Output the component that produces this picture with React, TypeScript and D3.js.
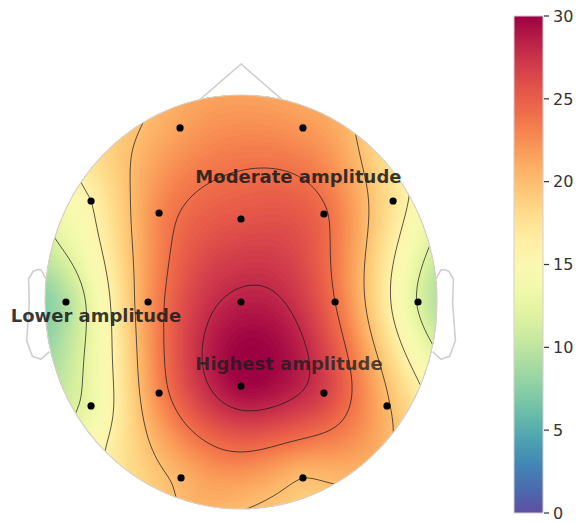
import React, { useMemo } from "react";
import * as d3 from "d3";

// ---------- data ----------
const channelNames = ["Fp1", "Fp2", "F7", "F3", "Fz", "F4", "F8", "T3", "C3", "Cz", "C4", "T4", "T5", "P3", "Pz", "P4", "T6", "O1", "O2"];
// sensor positions in head coordinates (-1..1, nose up)
const channelX = [-0.311, 0.316, -0.765, -0.418, 0, 0.423, 0.776, -0.893, -0.474, 0, 0.48, 0.903, -0.765, -0.418, 0, 0.423, 0.745, -0.306, 0.316];
const channelY = [0.841, 0.841, 0.488, 0.43, 0.401, 0.425, 0.488, 0, 0, 0, 0, 0, -0.502, -0.44, -0.406, -0.44, -0.502, -0.85, -0.85];
const channelValues = [21.5, 22, 16, 22.8, 25.5, 24.3, 17.5, 9.3, 22, 28.5, 24, 11.8, 13, 22.8, 29.7, 26.7, 20.3, 20.5, 20];
// values (degrees clockwise from the nose)
const rimAngles = [0, 15, 30, 45, 60, 75, 90, 105, 120, 135, 150, 165, 180, 195, 210, 225, 240, 255, 270, 285, 300, 315, 330, 345];
const rimValues = [21.5, 21.3, 20.8, 18.3, 15.8, 11.8, 9.5, 13, 18, 20.8, 20.2, 19.3, 20.1, 20.5, 18.7, 15.7, 11.5, 8.8, 7.5, 11.2, 14.8, 18.3, 20, 21.2];
const contourLevels = [12, 16, 20, 24, 28];
const colorTicks = [0, 5, 10, 15, 20, 25, 30];
const colorDomain = [0, 30];
const annotationTexts = ["Moderate amplitude", "Lower amplitude", "Highest amplitude"];

// ---------- layout ----------
const W = 579;
const H = 522;
const CX = 241;
const CY = 302;
const RX = 196;
const RY = 207;
const annotationPos = [
  [0.293, 0.575],
  [-0.74, -0.097],
  [0.245, -0.329],
];
const EAR_X = [0.497, 0.51, 0.518, 0.5299, 0.5419, 0.54, 0.547, 0.532, 0.51, 0.489];
const EAR_Y = [0.0555, 0.0775, 0.0783, 0.0746, 0.0555, -0.0055, -0.0932, -0.1313, -0.1384, -0.1199];
const BAR = { x: 514, w: 29, top: 16, bottom: 513 };

function fitTPS(xs: number[], ys: number[], vs: number[], lambda: number) {
  const n = xs.length;
  const N = n + 3;
  const phi = (r: number) => (r < 1e-12 ? 0 : r * r * Math.log(r));
  const A: number[][] = [];
  for (let i = 0; i < N; i++) A.push(new Array(N + 1).fill(0));
  for (let i = 0; i < n; i++) {
    for (let j = 0; j < n; j++) {
      const r = Math.hypot(xs[i] - xs[j], ys[i] - ys[j]);
      A[i][j] = phi(r) + (i === j ? lambda : 0);
    }
    A[i][n] = 1;
    A[i][n + 1] = xs[i];
    A[i][n + 2] = ys[i];
    A[n][i] = 1;
    A[n + 1][i] = xs[i];
    A[n + 2][i] = ys[i];
    A[i][N] = vs[i];
  }
  for (let c = 0; c < N; c++) {
    let p = c;
    for (let r = c + 1; r < N; r++) if (Math.abs(A[r][c]) > Math.abs(A[p][c])) p = r;
    [A[c], A[p]] = [A[p], A[c]];
    const piv = A[c][c];
    for (let r = 0; r < N; r++) {
      if (r === c) continue;
      const f = A[r][c] / piv;
      if (f === 0) continue;
      for (let k = c; k <= N; k++) A[r][k] -= f * A[c][k];
    }
  }
  const sol = A.map((row, i) => row[N] / row[i]);
  return (x: number, y: number) => {
    let s = sol[n] + sol[n + 1] * x + sol[n + 2] * y;
    for (let i = 0; i < n; i++) s += sol[i] * phi(Math.hypot(x - xs[i], y - ys[i]));
    return s;
  };
}

export default function App() {
  const xScale = d3.scaleLinear().domain([-1, 1]).range([CX - RX, CX + RX]);
  const yScale = d3.scaleLinear().domain([-1, 1]).range([CY + RY, CY - RY]);
  const color = d3.scaleSequential(d3.interpolateSpectral).domain([colorDomain[1], colorDomain[0]]);
  const barScale = d3.scaleLinear().domain(colorDomain).range([BAR.bottom, BAR.top]);

  const { fills, lines } = useMemo(() => {
    const px = channelX.concat(rimAngles.map((a) => Math.sin((a * Math.PI) / 180)));
    const py = channelY.concat(rimAngles.map((a) => Math.cos((a * Math.PI) / 180)));
    const pv = channelValues.concat(rimValues);
    const f = fitTPS(px, py, pv, 0.0005);
    const step = 2;
    const x0 = CX - RX - 4;
    const y0 = CY - RY - 4;
    const nx = Math.ceil((2 * RX + 8) / step) + 1;
    const ny = Math.ceil((2 * RY + 8) / step) + 1;
    const vals = new Array(nx * ny);
    let mn = Infinity;
    let mx = -Infinity;
    for (let j = 0; j < ny; j++) {
      for (let i = 0; i < nx; i++) {
        const u = xScale.invert(x0 + i * step);
        const v = yScale.invert(y0 + j * step);
        const val = f(u, v);
        vals[j * nx + i] = val;
        if (u * u + v * v <= 1.05) {
          mn = Math.min(mn, val);
          mx = Math.max(mx, val);
        }
      }
    }
    const proj = d3.geoIdentity().scale(step).translate([x0 - step * 0.5, y0 - step * 0.5]);
    const path = d3.geoPath(proj as any);
    const fillThresholds = d3.range(Math.floor(mn) - 1, mx, 0.2);
    const gen = d3.contours().size([nx, ny]);
    const fills = fillThresholds.map((t, i) => ({
      d: path(gen.contour(vals, i === 0 ? -1e9 : t) as any) || "",
      c: color(t + 0.1),
    }));
    const lines = contourLevels.map((t) => path(gen.contour(vals, t) as any) || "");
    return { fills, lines };
  }, []);

  const nosePts: [number, number][] = [
    [-0.2094, 0.9778],
    [0, 1.15],
    [0.2094, 0.9778],
  ];
  const line = d3.line<[number, number]>().x((d) => xScale(d[0])).y((d) => yScale(d[1]));
  const earR: [number, number][] = EAR_X.map((x, i) => [x * 2, EAR_Y[i] * 2]);
  const earL: [number, number][] = EAR_X.map((x, i) => [-x * 2, EAR_Y[i] * 2]);

  const stops = d3.range(0, 1.0001, 0.05);

  return (
    <svg width={W} height={H} style={{ position: "absolute", left: 0, top: 0, background: "#fff" }}>
      <defs>
        <clipPath id="headClip">
          <ellipse cx={CX} cy={CY} rx={RX} ry={RY} />
        </clipPath>
        <linearGradient id="cbar" x1="0" y1="0" x2="0" y2="1">
          {stops.map((o) => (
            <stop key={o} offset={o} stopColor={d3.interpolateSpectral(o)} />
          ))}
        </linearGradient>
      </defs>
      <path d={line(nosePts) || ""} fill="none" stroke="#cfcfcf" strokeWidth={1.6} />
      <path d={line(earR) || ""} fill="none" stroke="#cfcfcf" strokeWidth={1.6} />
      <path d={line(earL) || ""} fill="none" stroke="#cfcfcf" strokeWidth={1.6} />
      <g clipPath="url(#headClip)">
        {fills.map((f, i) => (
          <path key={i} d={f.d} fill={f.c} stroke="none" />
        ))}
        {lines.map((d, i) => (
          <path key={"l" + i} d={d} fill="none" stroke="#1a1a1a" strokeOpacity={0.8} strokeWidth={0.9} />
        ))}
      </g>
      <ellipse cx={CX} cy={CY} rx={RX} ry={RY} fill="none" stroke="#d8d0c8" strokeWidth={1.2} />
      {channelNames.map((n, i) => (
        <circle key={n} cx={xScale(channelX[i])} cy={yScale(channelY[i])} r={3.6} fill="#000" />
      ))}
      {annotationTexts.map((t, i) => (
        <text
          key={t}
          x={xScale(annotationPos[i][0])}
          y={yScale(annotationPos[i][1])}
          textAnchor="middle"
          fontFamily="DejaVu Sans"
          fontWeight="bold"
          fontSize={18}
          fill="#1c1c1c"
          fillOpacity={i === 2 ? 0.75 : 0.88}
        >
          {t}
        </text>
      ))}
      <rect x={BAR.x} y={BAR.top} width={BAR.w} height={BAR.bottom - BAR.top} fill="url(#cbar)" stroke="#d6cdd2" strokeWidth={1} />
      {colorTicks.map((t) => (
        <g key={t} transform={`translate(${BAR.x + BAR.w},${barScale(t)})`}>
          <line x1={1} x2={6} stroke="#333" strokeWidth={1.2} />
          <text x={10} dy="0.36em" fontFamily="DejaVu Sans" fontSize={16} fill="#333">
            {t}
          </text>
        </g>
      ))}
    </svg>
  );
}
